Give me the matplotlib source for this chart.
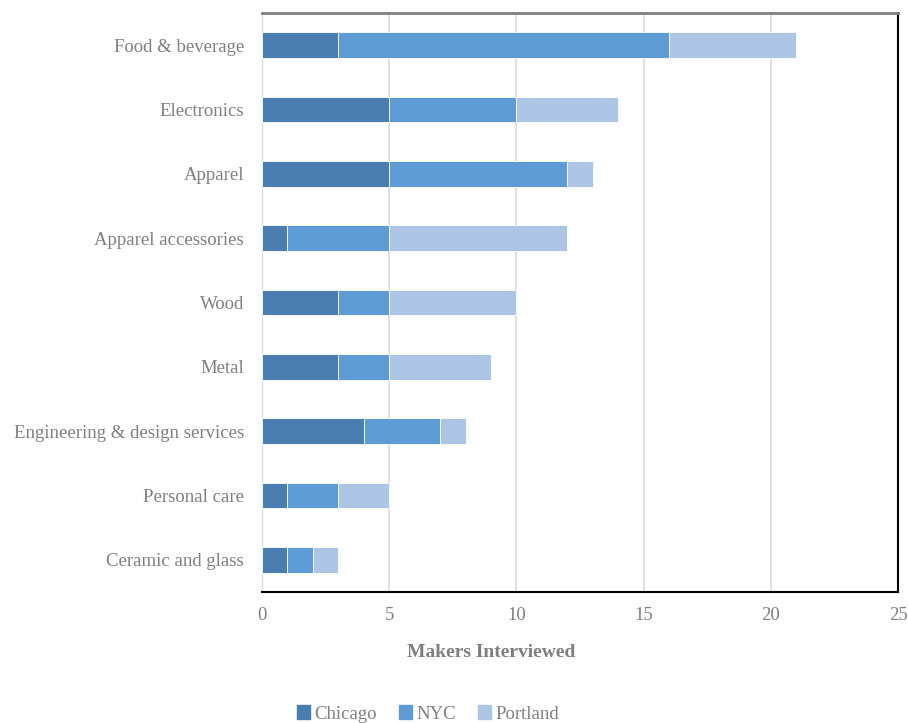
import numpy as np
import matplotlib.pyplot as plt
from matplotlib.patches import Patch

categories = ['Food & beverage', 'Electronics', 'Apparel', 'Apparel accessories', 'Wood',
              'Metal', 'Engineering & design services', 'Personal care', 'Ceramic and glass']
chicago = [3, 5, 5, 1, 3, 3, 4, 1, 1]
nyc = [13, 5, 7, 4, 2, 2, 3, 2, 1]
portland = [5, 4, 1, 7, 5, 4, 1, 2, 1]
series = ['Chicago', 'NYC', 'Portland']
colors = ['#4a7eb1', '#5e9bd4', '#adc5e5']

plt.rcParams['font.family'] = ['Liberation Serif', 'DejaVu Serif']
grey = '#7f7f7f'

fig = plt.figure(figsize=(9.08, 7.23), dpi=100)
ax = fig.add_axes([262/908, 1 - 592/723, (898 - 262)/908, (592 - 13)/723])

y = np.arange(len(categories))
left = np.zeros(len(categories))
for vals, name, col in zip([chicago, nyc, portland], series, colors):
    ax.barh(y, vals, left=left, height=0.4, color=col, edgecolor='white', linewidth=0.6, label=name, zorder=3)
    left += np.array(vals)

ax.set_ylim(len(categories) - 0.5, -0.5)
ax.set_xlim(0, 25)
ax.set_xticks([0, 5, 10, 15, 20, 25])
ax.set_yticks(y)
ax.set_yticklabels(categories)
ax.tick_params(axis='both', length=0, colors=grey, labelsize=13.5)
ax.tick_params(axis='x', pad=11)
ax.tick_params(axis='y', pad=13)
ax.grid(axis='x', color='#d9d9d9', linewidth=1.2, zorder=0)

ax.spines['left'].set_color('#d9d9d9')
ax.spines['top'].set_color('#808080')
ax.spines['top'].set_linewidth(2)
ax.spines['right'].set_color('black')
ax.spines['right'].set_linewidth(1.5)
ax.spines['bottom'].set_color('black')
ax.spines['bottom'].set_linewidth(1.5)

ax.set_xlabel('Makers Interviewed', fontsize=14, fontweight='bold', color=grey)
ax.xaxis.set_label_coords(0.36, -0.09)

handles = [Patch(color=c, label=s) for s, c in zip(series, colors)]
fig.legend(handles=handles, loc='center', bbox_to_anchor=(428/908, 1 - 714/723), ncol=3,
           frameon=False, fontsize=13.5, labelcolor=grey, handlelength=0.7, handleheight=0.7,
           handletextpad=0.2, columnspacing=1.2)

fig.savefig('out.png', dpi=100)
